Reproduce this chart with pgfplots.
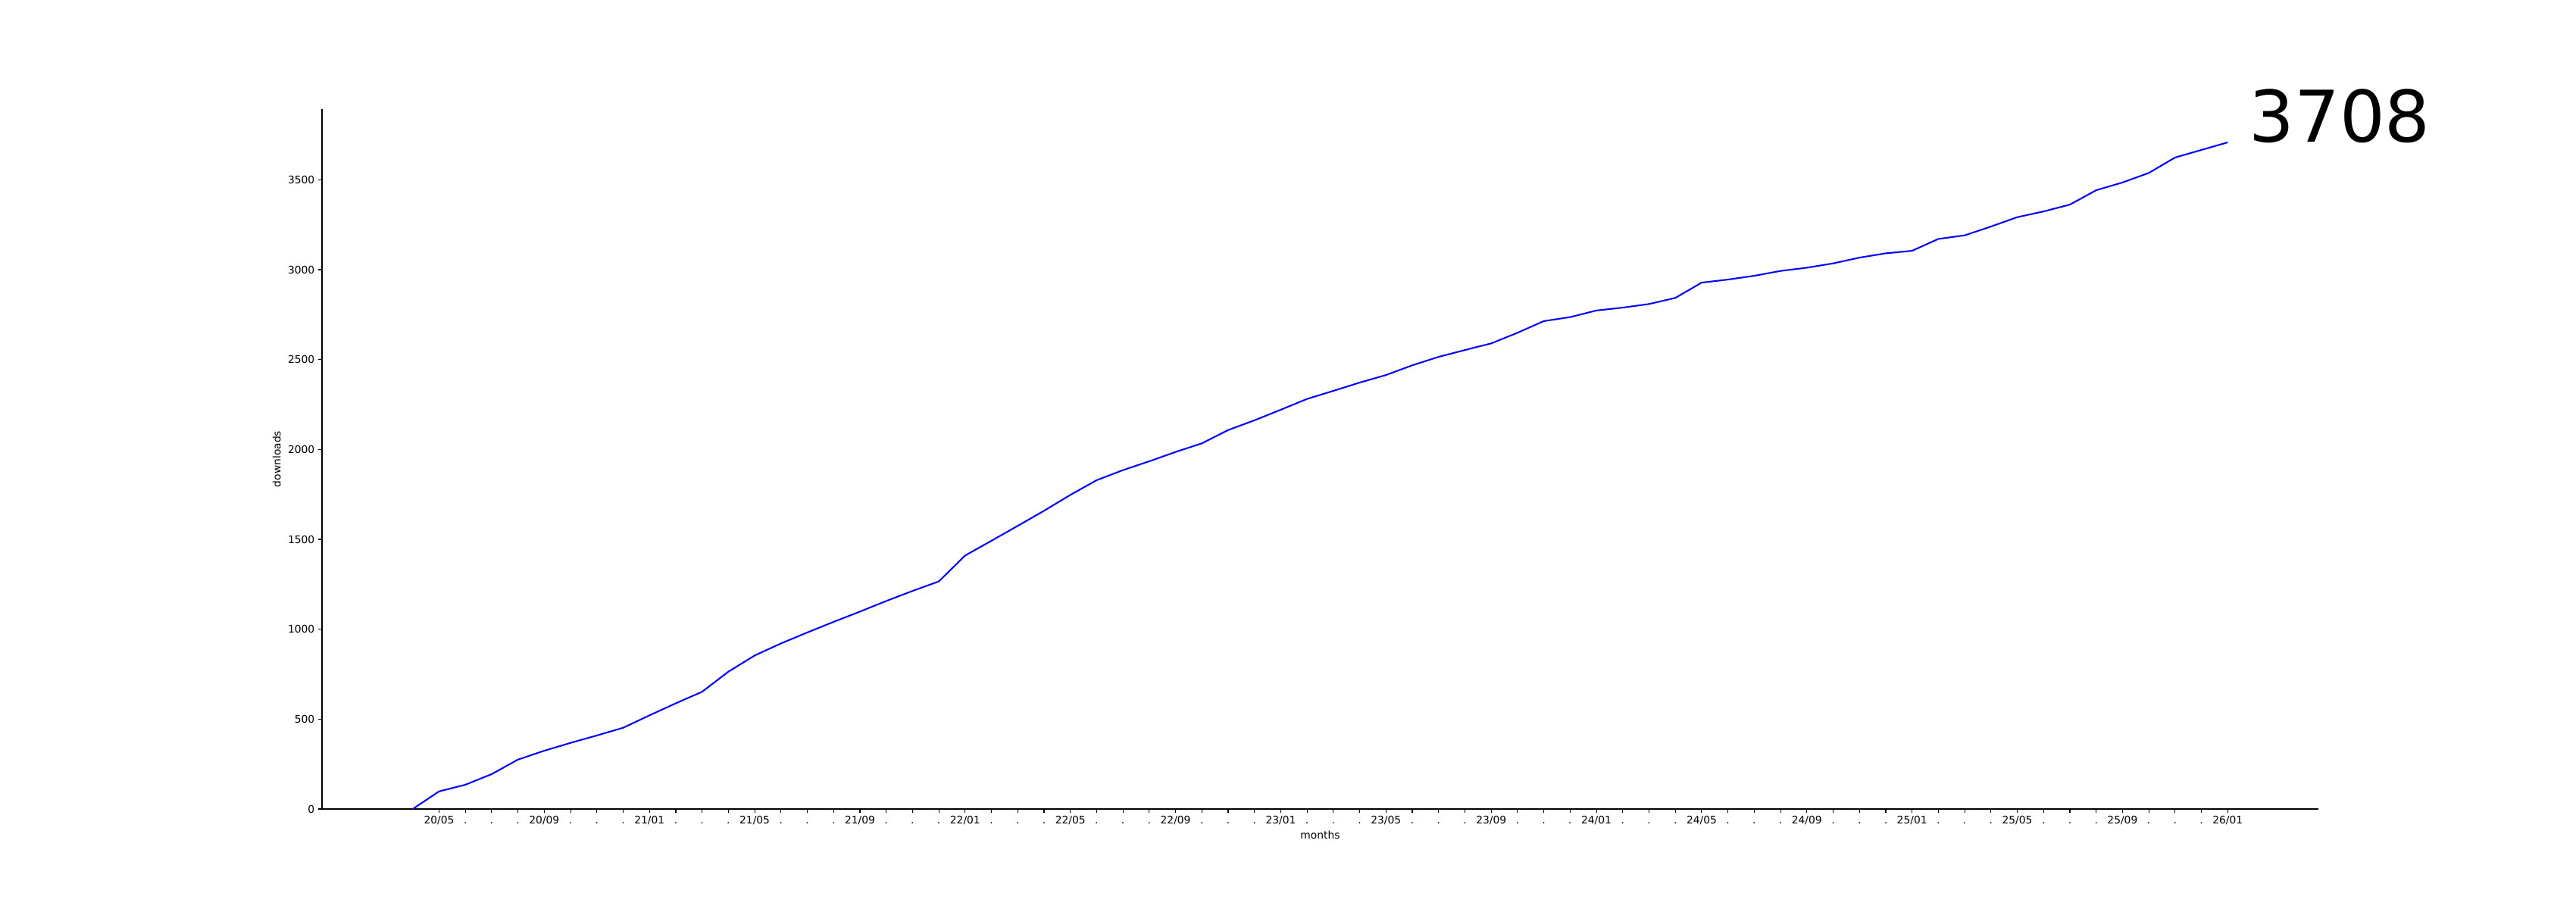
\documentclass[border=0pt]{standalone}
\usepackage{pgfplots}
\pgfplotsset{compat=1.18}
\usepackage{fontspec}
\setmainfont{DejaVu Sans}
\begin{document}
\begin{tikzpicture}
\path (0,0) rectangle (34in,12in);
\begin{axis}[
  at={(4.25in,1.32in)}, anchor=south west,
  scale only axis, width=26.35in, height=9.24in,
  xmin=-3.45, xmax=72.45, ymin=0, ymax=3893.4,
  axis x line*=bottom, axis y line*=left,
  axis line style={line width=0.8pt},
  tick style={line width=0.8pt, black},
  tick align=outside, major tick length=3.5pt,
  xtick={1,...,69},
  xticklabels={20/05,.,.,.,20/09,.,.,.,21/01,.,.,.,21/05,.,.,.,21/09,.,.,.,22/01,.,.,.,22/05,.,.,.,22/09,.,.,.,23/01,.,.,.,23/05,.,.,.,23/09,.,.,.,24/01,.,.,.,24/05,.,.,.,24/09,.,.,.,25/01,.,.,.,25/05,.,.,.,25/09,.,.,.,26/01},
  ytick={0,500,...,3500},
  /pgf/number format/assume math mode=true,
  /pgf/number format/1000 sep={},
  ticklabel style={font=\fontsize{10}{12}\selectfont},
  x tick label style={text height=7.3pt, text depth=0pt},
  label style={font=\fontsize{10}{12}\selectfont},
  xlabel={months}, ylabel={downloads},
  clip=false,
]
\addplot[blue, line width=1.5pt, no markers] coordinates {
(0,0) (1,98) (2,135) (3,194) (4,275) (5,324) (6,368) (7,409) (8,452) (9,521)
(10,588) (11,652) (12,764) (13,854) (14,921) (15,982) (16,1041) (17,1098) (18,1157) (19,1213)
(20,1266) (21,1410) (22,1492) (23,1575) (24,1659) (25,1747) (26,1829) (27,1885) (28,1934) (29,1986)
(30,2034) (31,2108) (32,2162) (33,2221) (34,2281) (35,2326) (36,2372) (37,2414) (38,2468) (39,2515)
(40,2553) (41,2590) (42,2649) (43,2714) (44,2736) (45,2773) (46,2789) (47,2809) (48,2843) (49,2928)
(50,2945) (51,2966) (52,2993) (53,3011) (54,3035) (55,3067) (56,3091) (57,3105) (58,3171) (59,3191)
(60,3240) (61,3292) (62,3324) (63,3362) (64,3442) (65,3485) (66,3538) (67,3624) (68,3666) (69,3708)
};
\node[anchor=base west, inner sep=0pt, font=\fontsize{68}{82}\selectfont] at (axis cs:69.8,3708) {3708};
\end{axis}
\end{tikzpicture}
\end{document}
